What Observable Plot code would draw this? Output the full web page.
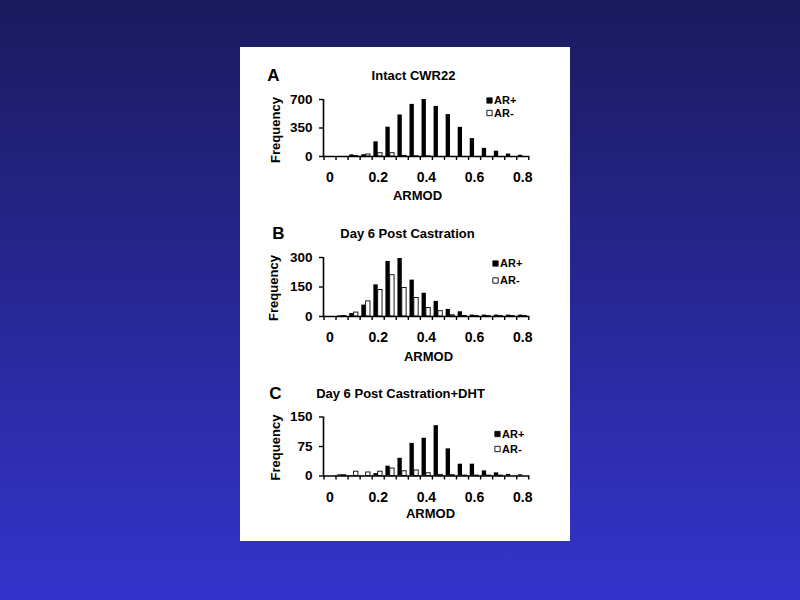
<!DOCTYPE html>
<html>
<head>
<meta charset="utf-8">
<script src="https://cdn.jsdelivr.net/npm/d3@7"></script>
<script src="https://cdn.jsdelivr.net/npm/@observablehq/plot@0.6"></script>
<style>
html, body { margin: 0; padding: 0; width: 800px; height: 600px; overflow: hidden; }
body { background: linear-gradient(to bottom, #1b1a5e 0%, #3434cc 100%); position: relative; }
#panel { position: absolute; left: 240px; top: 47px; width: 330px; height: 494px; background: #ffffff; }
</style>
</head>
<body>
<div id="panel"></div>
<script>
// ---- data ----
const bins = [0, 0.05, 0.1, 0.15, 0.2, 0.25, 0.3, 0.35, 0.4, 0.45, 0.5, 0.55, 0.6, 0.65, 0.7, 0.75, 0.8];
const xTickLabels = [0, 0.2, 0.4, 0.6, 0.8];
const xTickMarks = [-0.025, 0.025, 0.075, 0.125, 0.175, 0.225, 0.275, 0.325, 0.375, 0.425, 0.475, 0.525, 0.575, 0.625, 0.675, 0.725, 0.775, 0.825];
const seriesNames = ["AR+", "AR-"];
const xLabel = "ARMOD";
const yLabel = "Frequency";

const titleA = "Intact CWR22";
const yTicksA = [0, 350, 700];
const intactPos = [0, 0, 20, 22, 180, 360, 510, 640, 700, 615, 515, 358, 220, 100, 65, 30, 15];
const intactNeg = [0, 0, 5, 25, 40, 40, 8, 3, 2, 0, 0, 0, 0, 0, 0, 0, 0];

const titleB = "Day 6 Post Castration";
const yTicksB = [0, 150, 300];
const castPos = [0, 3, 15, 58, 161, 280, 295, 185, 118, 77, 36, 24, 7, 7, 7, 7, 7];
const castNeg = [0, 2, 20, 77, 135, 210, 145, 94, 43, 27, 6, 3, 2, 2, 2, 2, 2];

const titleC = "Day 6 Post Castration+DHT";
const yTicksC = [0, 75, 150];
const dhtPos = [0, 3, 1, 1, 6, 25, 45, 83, 96, 128, 69, 30, 30, 13, 8, 4, 3];
const dhtNeg = [0, 2, 11, 9, 11, 19, 12, 14, 7, 3, 2, 1, 1, 1, 1, 0, 0];

// ---- layout (not data) ----
const FONT = '"Liberation Sans", Arial, Helvetica, sans-serif';
const BW = 0.018;
const XDOM = [-0.027, 0.828];

const panels = [
  {letter: "A", title: titleA, pos: intactPos, neg: intactNeg, yTicks: yTicksA,
   top: 0, height: 163, mt: 52, fh: 57,
   titleDx: -13, titleDy: -24, letterDx: -50, letterDy: -24,
   xlDx: -9, xlDy: 39, ylDx: -48, ylDy: 2,
   legDx: -40, legDy1: 1, legDy2: 13.5},
  {letter: "B", title: titleB, pos: castPos, neg: castNeg, yTicks: yTicksB,
   top: 163, height: 160, mt: 47, fh: 59,
   titleDx: -19, titleDy: -24, letterDx: -45, letterDy: -24,
   xlDx: 2, xlDy: 40, ylDx: -50, ylDy: 1,
   legDx: -34, legDy1: 6, legDy2: 23},
  {letter: "C", title: titleC, pos: dhtPos, neg: dhtNeg, yTicks: yTicksC,
   top: 323, height: 160, mt: 46.5, fh: 59,
   titleDx: -26, titleDy: -23.5, letterDx: -48, letterDy: -23.5,
   xlDx: 4, xlDy: 37.5, ylDx: -48, ylDy: 1,
   legDx: -32, legDy1: 17, legDy2: 32}
];

function makePanel(cfg) {
  const pos = bins.map((b, i) => ({bin: b, v: cfg.pos[i]})).filter(d => d.v > 0);
  const neg = bins.map((b, i) => ({bin: b, v: cfg.neg[i]})).filter(d => d.v > 0);
  const yMax = cfg.yTicks[cfg.yTicks.length - 1];
  const T = {textAnchor: "middle", lineAnchor: "middle", fontWeight: "bold", fill: "#000"};
  const chart = Plot.plot({
    width: 330,
    height: cfg.height,
    marginLeft: 83,
    marginRight: 41,
    marginTop: cfg.mt,
    marginBottom: cfg.height - cfg.mt - cfg.fh,
    style: {fontFamily: FONT, fontSize: "13px", fontWeight: "bold", color: "#000", background: "transparent", overflow: "visible"},
    x: {domain: XDOM},
    y: {domain: [0, yMax]},
    marks: [
      Plot.rect(pos, {x1: d => d.bin - BW, x2: d => d.bin, y1: d => 0, y2: "v", fill: "#000"}),
      Plot.rect(neg, {x1: d => d.bin, x2: d => d.bin + BW, y1: d => 0, y2: "v", fill: "#fff", stroke: "#000", strokeWidth: 0.9}),
      Plot.ruleY([0], {stroke: "#000", strokeWidth: 1.6}),
      Plot.ruleX([XDOM[0]], {stroke: "#000", strokeWidth: 1.6}),
      Plot.axisX({ticks: xTickMarks, tickSize: 4, tickFormat: () => "", label: null, strokeWidth: 1.4}),
      Plot.axisX({ticks: xTickLabels, tickSize: 0, tickPadding: 16, tickFormat: d => String(d), label: null, fontSize: 14, fontWeight: "bold"}),
      Plot.axisY({ticks: cfg.yTicks, tickSize: 4, tickPadding: 7, label: null, strokeWidth: 1.4, fontSize: 13.5, fontWeight: "bold"}),
      Plot.text([cfg.title], {...T, text: d => d, frameAnchor: "top", dx: cfg.titleDx, dy: cfg.titleDy, fontSize: 13}),
      Plot.text([cfg.letter], {...T, text: d => d, frameAnchor: "top-left", dx: cfg.letterDx, dy: cfg.letterDy, fontSize: 17}),
      Plot.text([xLabel], {...T, text: d => d, frameAnchor: "bottom", dx: cfg.xlDx, dy: cfg.xlDy, fontSize: 13}),
      Plot.text([yLabel], {...T, text: d => d, frameAnchor: "left", rotate: -90, dx: cfg.ylDx, dy: cfg.ylDy, fontSize: 13}),
      Plot.dot([seriesNames[0]], {frameAnchor: "top-right", dx: cfg.legDx, dy: cfg.legDy1, symbol: "square", r: 3, fill: "#000", stroke: "#000", strokeWidth: 0.8}),
      Plot.dot([seriesNames[1]], {frameAnchor: "top-right", dx: cfg.legDx, dy: cfg.legDy2, symbol: "square", r: 3, fill: "#fff", stroke: "#000", strokeWidth: 0.9}),
      Plot.text([seriesNames[0]], {...T, text: d => d, frameAnchor: "top-right", textAnchor: "start", dx: cfg.legDx + 4.5, dy: cfg.legDy1, fontSize: 11}),
      Plot.text([seriesNames[1]], {...T, text: d => d, frameAnchor: "top-right", textAnchor: "start", dx: cfg.legDx + 4.5, dy: cfg.legDy2, fontSize: 11})
    ]
  });
  chart.style.position = "absolute";
  chart.style.left = "0px";
  chart.style.top = cfg.top + "px";
  return chart;
}

const host = document.getElementById("panel");
panels.forEach(cfg => host.appendChild(makePanel(cfg)));
</script>
</body>
</html>
